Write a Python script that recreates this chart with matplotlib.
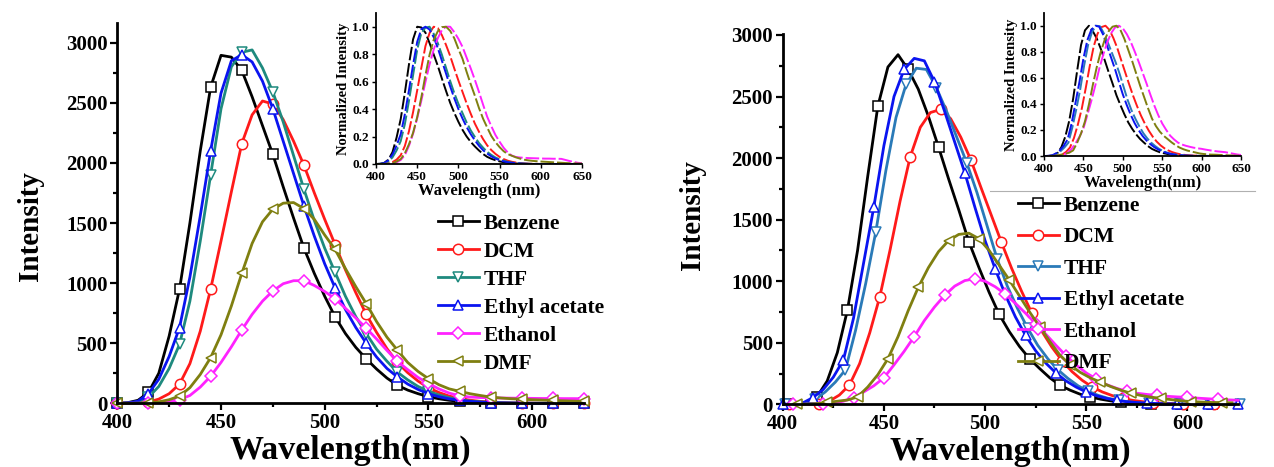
import numpy as np
import matplotlib
matplotlib.use('Agg')
import matplotlib.pyplot as plt
from matplotlib.ticker import MultipleLocator, FormatStrFormatter
from matplotlib.lines import Line2D

plt.rcParams['font.family'] = ['Liberation Serif', 'DejaVu Serif']
plt.rcParams['font.weight'] = 'bold'

names = ['Benzene', 'DCM', 'THF', 'Ethyl acetate', 'Ethanol', 'DMF']
markers = ['s', 'o', 'v', '^', 'D', '<']
colors_left = ['#000000', '#ff1a1a', '#1e8a7e', '#0a14f0', '#ff22ff', '#7f7f10']
colors_right = ['#000000', '#ff1a1a', '#2a7ab8', '#0a14f0', '#ff22ff', '#7f7f10']

# left panel: every series sampled at 400, 405, ... 650 nm
left_start = [400, 400, 400, 400, 400, 400]
left_benzene = [0, 5, 25, 90, 250, 560, 950, 1500, 2100, 2630, 2895, 2880, 2770, 2550, 2310,
                2070, 1800, 1540, 1290, 1080, 890, 720, 580, 465, 370, 285, 210, 150, 110, 80,
                55, 38, 25, 17, 11, 7, 4, 2, 1, 0, 0, 0, 0, 0, 0, 0, 0, 0, 0, 0, 0]
left_dcm = [0, 0, 2, 10, 35, 80, 160, 330, 600, 950, 1350, 1760, 2160, 2400, 2515,
            2490, 2360, 2180, 1980, 1750, 1530, 1320, 1110, 920, 740, 590, 455, 340, 255, 185,
            130, 90, 60, 40, 26, 16, 10, 6, 3, 2, 1, 0, 0, 0, 0, 0, 0, 0, 0, 0, 0]
left_thf = [0, 2, 12, 50, 140, 290, 490, 850, 1350, 1900, 2450, 2800, 2920, 2940, 2790,
            2590, 2340, 2060, 1780, 1520, 1290, 1090, 890, 720, 580, 450, 350, 260, 195, 140,
            100, 70, 47, 30, 19, 12, 7, 4, 2, 1, 0, 0, 0, 0, 0, 0, 0, 0, 0, 0, 0]
left_ea = [0, 3, 18, 80, 200, 390, 630, 1050, 1560, 2100, 2580, 2850, 2900, 2840, 2680,
           2450, 2180, 1910, 1640, 1390, 1160, 960, 780, 630, 500, 385, 290, 220, 160, 115,
           80, 55, 37, 25, 16, 10, 6, 3, 2, 1, 0, 0, 0, 0, 0, 0, 0, 0, 0, 0, 0]
left_ethanol = [0, 0, 0, 2, 5, 12, 30, 65, 135, 225, 340, 470, 610, 740, 850,
                935, 995, 1020, 1020, 980, 930, 870, 790, 710, 625, 535, 440, 350, 280, 215,
                165, 120, 85, 62, 52, 48, 46, 44, 43, 42, 41, 40, 40, 39, 39, 38, 30, 22, 15, 9, 5]
left_dmf = [0, 0, 1, 5, 12, 30, 60, 130, 240, 380, 570, 810, 1080, 1330, 1510,
            1615, 1665, 1670, 1620, 1530, 1400, 1280, 1120, 970, 830, 680, 550, 443, 340, 265,
            205, 155, 120, 100, 80, 65, 52, 44, 38, 34, 30, 27, 24, 21, 18, 15, 12, 10, 8, 6, 5]

# right panel: each series has its own sampling start, step 5 nm
right_start = [402, 403, 401, 400, 405, 407]
right_benzene = [0, 3, 15, 62, 190, 420, 766, 1250, 1850, 2420, 2740, 2840, 2720, 2560, 2340,
                 2090, 1830, 1580, 1320, 1110, 910, 730, 590, 470, 370, 290, 215, 155, 115, 82,
                 60, 42, 28, 18, 12, 7, 4, 2, 1, 0, 0, 0, 0, 0, 0, 0, 0, 0, 0, 0, 0]
right_dcm = [0, 1, 1, 5, 25, 75, 157, 330, 580, 875, 1250, 1650, 2010, 2250, 2370,
             2395, 2320, 2170, 1985, 1760, 1540, 1320, 1110, 920, 745, 595, 465, 355, 265, 195,
             140, 100, 70, 48, 32, 21, 14, 9, 6, 4, 2, 1, 0, 0, 0, 0, 0, 0, 0, 0, 0]
right_thf = [0, 2, 10, 40, 100, 180, 280, 600, 980, 1400, 1900, 2330, 2600, 2730, 2720,
             2570, 2380, 2170, 1960, 1720, 1450, 1180, 960, 780, 620, 480, 370, 280, 210, 150,
             105, 72, 48, 32, 20, 12, 7, 4, 2, 1, 0, 0, 0, 0, 0, 0, 0, 0, 0, 0, 0]
right_ea = [0, 2, 12, 55, 120, 220, 360, 700, 1150, 1600, 2100, 2500, 2720, 2810, 2790,
            2620, 2380, 2130, 1880, 1600, 1330, 1100, 890, 710, 560, 435, 335, 255, 190, 140,
            100, 70, 48, 32, 21, 14, 9, 6, 4, 3, 2, 2, 2, 2, 2, 2, 1, 1, 0, 0, 0]
right_ethanol = [0, 0, 1, 3, 10, 25, 55, 100, 150, 215, 320, 430, 550, 680, 790,
                 885, 960, 1005, 1020, 1000, 955, 895, 820, 740, 655, 570, 480, 395, 320, 255,
                 205, 160, 130, 105, 90, 80, 72, 65, 60, 56, 50, 45, 40, 36, 33, 30, 24, 18, 12, 8, 5]
right_dmf = [0, 2, 6, 15, 25, 35, 60, 140, 240, 370, 550, 760, 950, 1110, 1240,
             1330, 1380, 1390, 1345, 1250, 1130, 1010, 880, 750, 630, 510, 400, 320, 260, 215,
             180, 145, 115, 90, 72, 58, 48, 38, 28, 22, 18, 15, 14, 12, 10, 8, 6, 4, 3, 2, 1]

left_data = [left_benzene, left_dcm, left_thf, left_ea, left_ethanol, left_dmf]
right_data = [right_benzene, right_dcm, right_thf, right_ea, right_ethanol, right_dmf]

W, H = 1274, 467
fig = plt.figure(figsize=(W / 100, H / 100), dpi=100)


def px_axes(x0, y0, x1, y1):
    return fig.add_axes([x0 / W, 1 - y1 / H, (x1 - x0) / W, (y1 - y0) / H])


def style(ax, lw, fs, major, minor):
    for s in ['top', 'right']:
        ax.spines[s].set_visible(False)
    for s in ['left', 'bottom']:
        ax.spines[s].set_linewidth(lw)
    ax.tick_params(which='major', direction='out', length=major, width=lw * 0.8,
                   labelsize=fs, pad=2)
    ax.tick_params(which='minor', direction='out', length=minor, width=lw * 0.8)
    for t in ax.get_xticklabels() + ax.get_yticklabels():
        t.set_fontweight('bold')


def panel(box, inset_box, data, starts, colors, ytop, ylabel_xy, legend_anchor, spacing, xlab2):
    ax = px_axes(*box)
    for vals, st, c, m, n in zip(data, starts, colors, markers, names):
        wl = st + 5 * np.arange(len(vals))
        y = np.array(vals, dtype=float)
        keep = wl <= 626
        ms = 6.5 if m == 'D' else 7.5
        ax.plot(wl[keep], y[keep], color=c, lw=2.0, marker=m, markevery=3, ms=ms,
                mfc='white', mec=c, mew=1.1, label=n, clip_on=False)
    ax.set_xlim(400, 625)
    ax.set_ylim(0, ytop)
    ax.xaxis.set_minor_locator(MultipleLocator(25))
    ax.yaxis.set_major_locator(MultipleLocator(500))
    ax.yaxis.set_minor_locator(MultipleLocator(250))
    ax.set_xticks([400, 450, 500, 550, 600])
    style(ax, 2.0, 15, 5, 3)
    ax.set_xlabel('Wavelength(nm)', fontsize=24.5, fontweight='bold', labelpad=1)
    ax.set_ylabel('Intensity', fontsize=21, fontweight='bold')
    ax.yaxis.set_label_coords(*ylabel_xy)
    ax.legend(loc='upper left', bbox_to_anchor=legend_anchor, bbox_transform=fig.transFigure,
              frameon=False, numpoints=1, handlelength=1.9, handletextpad=0.25,
              labelspacing=spacing, borderpad=0, prop={'weight': 'bold', 'size': 15.5})

    ins = px_axes(*inset_box)
    for vals, st, c in zip(data, starts, colors):
        wl = st + 5 * np.arange(len(vals))
        y = np.array(vals, dtype=float)
        ins.plot(wl, y / y.max(), color=c, lw=1.4, dashes=(7, 1.5))
    ins.set_xlim(400, 650)
    ins.set_ylim(0, 1.1)
    ins.set_xticks([400, 450, 500, 550, 600, 650])
    ins.set_yticks([0.0, 0.2, 0.4, 0.6, 0.8, 1.0])
    ins.yaxis.set_major_formatter(FormatStrFormatter('%.1f'))
    style(ins, 1.3, 9.5, 3, 2)
    ins.set_xlabel(xlab2, fontsize=12, fontweight='bold', labelpad=0)
    ins.set_ylabel('Normalized Intensity', fontsize=10.5, fontweight='bold', labelpad=2)
    return ax


panel((117.3, 23, 584, 403.3), (376, 13, 582, 164), left_data, left_start, colors_left,
      3164, (-0.158, 0.466), (427 / W, 1 - 203 / H), 0.37, 'Wavelength (nm)')
panel((782.7, 34, 1238, 404.3), (1044, 12.7, 1241, 156), right_data, right_start, colors_right,
      3008, (-0.168, 0.511), (1007 / W, 1 - 185 / H), 0.53, 'Wavelength(nm)')

fig.add_artist(Line2D([990 / W, 1255 / W], [1 - 191 / H, 1 - 191 / H],
                      transform=fig.transFigure, color='#b0b0b0', lw=0.8))

fig.savefig('out.png', dpi=100)
